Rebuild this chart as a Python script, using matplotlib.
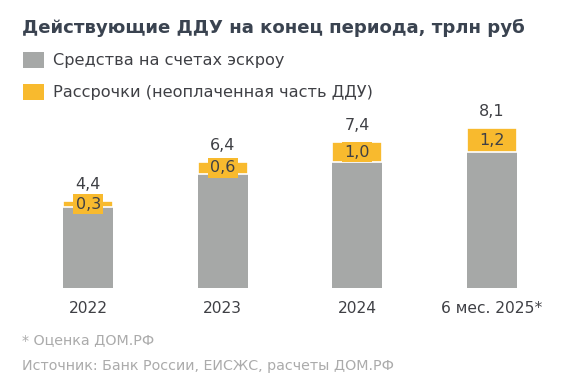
import matplotlib
matplotlib.use("Agg")
import matplotlib.pyplot as plt
from matplotlib.patches import Rectangle

categories = ["2022", "2023", "2024", "6 мес. 2025*"]
escrow = [4.1, 5.8, 6.4, 6.9]
installments = [0.3, 0.6, 1.0, 1.2]
totals = [4.4, 6.4, 7.4, 8.1]
inst_labels = ["0,3", "0,6", "1,0", "1,2"]
total_labels = ["4,4", "6,4", "7,4", "8,1"]

GRAY = "#A6A8A7"
YELLOW = "#F8BA2E"
TXT = "#3F4045"
TITLE = "#3A4350"
FOOT = "#ABABAB"

plt.rcParams['font.family'] = ['DejaVu Sans']

W, H = 571, 386
fig = plt.figure(figsize=(W / 100, H / 100), dpi=100)

# axes: baseline at y=288px, x centers 88..492
left_px, right_px = 21, 559
bottom_px = 288
top_px = 91
ax = fig.add_axes([left_px / W, (H - bottom_px) / H, (right_px - left_px) / W, (bottom_px - top_px) / H])
ax.set_xlim(-0.5, 3.5)
ax.set_ylim(0, 10)
ax.axis('off')

x = list(range(len(categories)))
bw = 0.37
ax.bar(x, escrow, width=bw, color=GRAY, linewidth=0)
ax.bar(x, installments, bottom=escrow, width=bw, color=YELLOW, edgecolor="white", linewidth=1.2)

for i in x:
    yc = escrow[i] + installments[i] / 2
    ax.text(i, yc, inst_labels[i], ha='center', va='center', fontsize=11.5, color=TXT,
            bbox=dict(boxstyle='square,pad=0.15', facecolor=YELLOW, edgecolor='none'))
    ax.annotate(total_labels[i], (i, totals[i]), xytext=(0, 12), textcoords='offset points',
                ha='center', va='center', fontsize=11.5, color=TXT)
    ax.text(i, -1.05, categories[i], ha='center', va='center', fontsize=11.2, color=TXT)

# title
fig.text(22 / W, 1 - 28 / H, "Действующие ДДУ на конец периода, трлн руб", fontsize=13.1,
         fontweight='bold', color=TITLE, ha='left', va='center')

# legend
for yy, col, lab in [(60, GRAY, "Средства на счетах эскроу"),
                     (92, YELLOW, "Рассрочки (неоплаченная часть ДДУ)")]:
    fig.patches.append(Rectangle((23 / W, 1 - (yy + 7.5) / H), 21 / W, 15 / H,
                                 transform=fig.transFigure, facecolor=col, edgecolor='none'))
    fig.text(53 / W, 1 - yy / H, lab, fontsize=11.6, color=TXT, ha='left', va='center')

# footnotes
fig.text(22 / W, 1 - 340 / H, "* Оценка ДОМ.РФ", fontsize=10.3, color=FOOT, ha='left', va='center')
fig.text(22 / W, 1 - 366 / H, "Источник: Банк России, ЕИСЖС, расчеты ДОМ.РФ", fontsize=10.3,
         color=FOOT, ha='left', va='center')

fig.savefig("out.png", dpi=100, facecolor="white")
